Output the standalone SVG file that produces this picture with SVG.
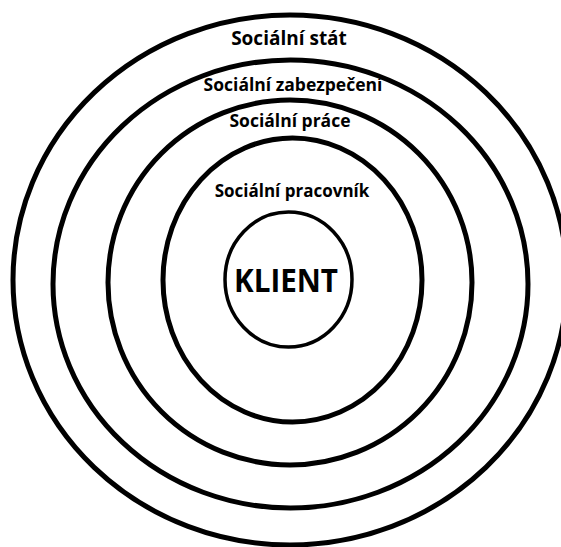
<svg xmlns="http://www.w3.org/2000/svg" width="561" height="547" viewBox="0 0 561 547">
<style>
.ring{fill:none;stroke:#000;stroke-width:5}
.inner{fill:none;stroke:#000;stroke-width:3.5}
.lbl{font-family:"Open Sans","Liberation Sans",sans-serif;font-weight:bold;fill:#000;text-anchor:middle}
</style>
<rect width="561" height="547" fill="#fff"/>
<g id="socialni-stat">
<ellipse class="ring" cx="290" cy="280" rx="277" ry="265"/>
<text class="lbl" x="289" y="45" font-size="19">Sociální stát</text>
</g>
<g id="socialni-zabezpeceni">
<ellipse class="ring" cx="290.5" cy="284" rx="237.5" ry="224"/>
<text class="lbl" x="293" y="91" font-size="17.5">Sociální zabezpečení</text>
</g>
<g id="socialni-prace">
<ellipse class="ring" cx="290" cy="282.5" rx="182" ry="182.5"/>
<text class="lbl" x="290" y="127" font-size="17.5">Sociální práce</text>
</g>
<g id="socialni-pracovnik">
<ellipse class="ring" cx="292.5" cy="280" rx="129.5" ry="142"/>
<text class="lbl" x="292" y="197" font-size="17">Sociální pracovník</text>
</g>
<g id="klient">
<ellipse class="inner" cx="288.5" cy="279.5" rx="63.5" ry="67.5"/>
<text class="lbl" x="286" y="292" font-size="33" textLength="104" lengthAdjust="spacingAndGlyphs">KLIENT</text>
</g>
<g id="connectors"></g>
</svg>
